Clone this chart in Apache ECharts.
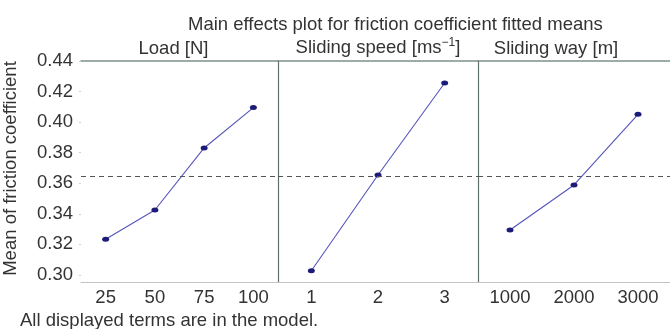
<!DOCTYPE html>
<html>
<head>
<meta charset="utf-8">
<script src="https://cdn.jsdelivr.net/npm/echarts@6/dist/echarts.min.js"></script>
<style>
  html, body { margin: 0; padding: 0; background: #fff; }
  #chart { width: 670px; height: 329px; }
</style>
</head>
<body>
<div id="chart"></div>
<script>
// factor levels
const loadLevels = ['25', '50', '75', '100'];
const speedLevels = ['1', '2', '3'];
const wayLevels = ['1000', '2000', '3000'];

// fitted means
const loadMeans = [0.3234, 0.3425, 0.3831, 0.4095];
const speedMeans = [0.3028, 0.3654, 0.4256];
const wayMeans = [0.3294, 0.3589, 0.4051];

const grandMean = 0.3646;
const yTicks = [0.30, 0.32, 0.34, 0.36, 0.38, 0.40, 0.42, 0.44];

const chart = echarts.init(document.getElementById('chart'));

const font = 'Liberation Sans, Arial, sans-serif';
const fs = 18.5;
const textColor = '#333';
const lineColor = '#5454bc';
const dotColor = '#1c1c78';

const panels = [
  { name: 'Load [N]', levels: loadLevels, values: loadMeans, left: 79, width: 199, pad: [0, 12, 0, 0] },
  { name: 'Sliding speed [ms{sup|\u22121}]', levels: speedLevels, values: speedMeans, left: 278, width: 200, pad: [0, 0, 0, 0] },
  { name: 'Sliding way [m]', levels: wayLevels, values: wayMeans, left: 478, width: 200, pad: [0, 36, 0, 0] }
];

const grid = [];
const xAxis = [];
const yAxis = [];
const series = [];

panels.forEach((p, i) => {
  grid.push({ left: p.left, width: p.width, top: 61, height: 221 });
  // bottom category axis
  xAxis.push({
    type: 'category',
    gridIndex: i,
    data: p.levels,
    boundaryGap: true,
    axisLine: { lineStyle: { color: '#c4c4c4', width: 1 } },
    axisTick: { show: false },
    axisLabel: { color: textColor, fontSize: fs, fontFamily: font, margin: 6 }
  });
  // top line with panel title
  xAxis.push({
    type: 'category',
    gridIndex: i,
    position: 'top',
    data: p.levels,
    boundaryGap: true,
    name: p.name,
    nameLocation: 'middle',
    nameGap: 3,
    nameTextStyle: {
      color: textColor,
      fontSize: fs,
      fontFamily: font,
      padding: p.pad,
      rich: {
        sup: { fontSize: 12, fontFamily: font, color: textColor, padding: [0, 0, 9, 0] }
      }
    },
    axisLine: { lineStyle: { color: '#7f908c', width: 1.5 } },
    axisTick: { show: false },
    axisLabel: { show: false }
  });
  yAxis.push({
    type: 'value',
    gridIndex: i,
    min: 0.2954,
    max: 0.44,
    name: i === 0 ? 'Mean of friction coefficient' : '',
    nameLocation: 'middle',
    nameRotate: 90,
    nameGap: 61,
    nameTextStyle: { color: textColor, fontSize: fs, fontFamily: font, padding: [0, 0, 0, 6] },
    splitLine: { show: false },
    axisLine: { show: i > 0, lineStyle: { color: '#5f716d', width: 1.2 } },
    axisTick: {
      show: i === 0,
      length: 2,
      lineStyle: { color: '#cfcfcf' },
      customValues: yTicks
    },
    axisLabel: {
      show: i === 0,
      color: textColor,
      fontSize: fs,
      fontFamily: font,
      margin: 8,
      customValues: yTicks,
      formatter: (v) => v.toFixed(2)
    }
  });
  series.push({
    type: 'line',
    xAxisIndex: i * 2,
    yAxisIndex: i,
    data: p.values,
    symbol: 'circle',
    symbolSize: [7, 5],
    lineStyle: { color: lineColor, width: 1.1 },
    itemStyle: { color: dotColor },
    silent: true,
    markLine: {
      silent: true,
      symbol: 'none',
      precision: 4,
      label: { show: false },
      lineStyle: { color: '#555', type: [5, 4], width: 1.2 },
      data: [{ yAxis: grandMean }]
    }
  });
});

const option = {
  animation: false,
  backgroundColor: '#fff',
  title: [
    {
      text: 'Main effects plot for friction coefficient fitted means',
      left: 183,
      top: 10,
      textStyle: { color: textColor, fontSize: fs, fontWeight: 'normal', fontFamily: font }
    },
    {
      text: 'All displayed terms are in the model.',
      left: 15,
      top: 306,
      textStyle: { color: textColor, fontSize: fs, fontWeight: 'normal', fontFamily: font }
    }
  ],
  grid: grid,
  xAxis: xAxis,
  yAxis: yAxis,
  series: series
};

chart.setOption(option);
</script>
</body>
</html>
